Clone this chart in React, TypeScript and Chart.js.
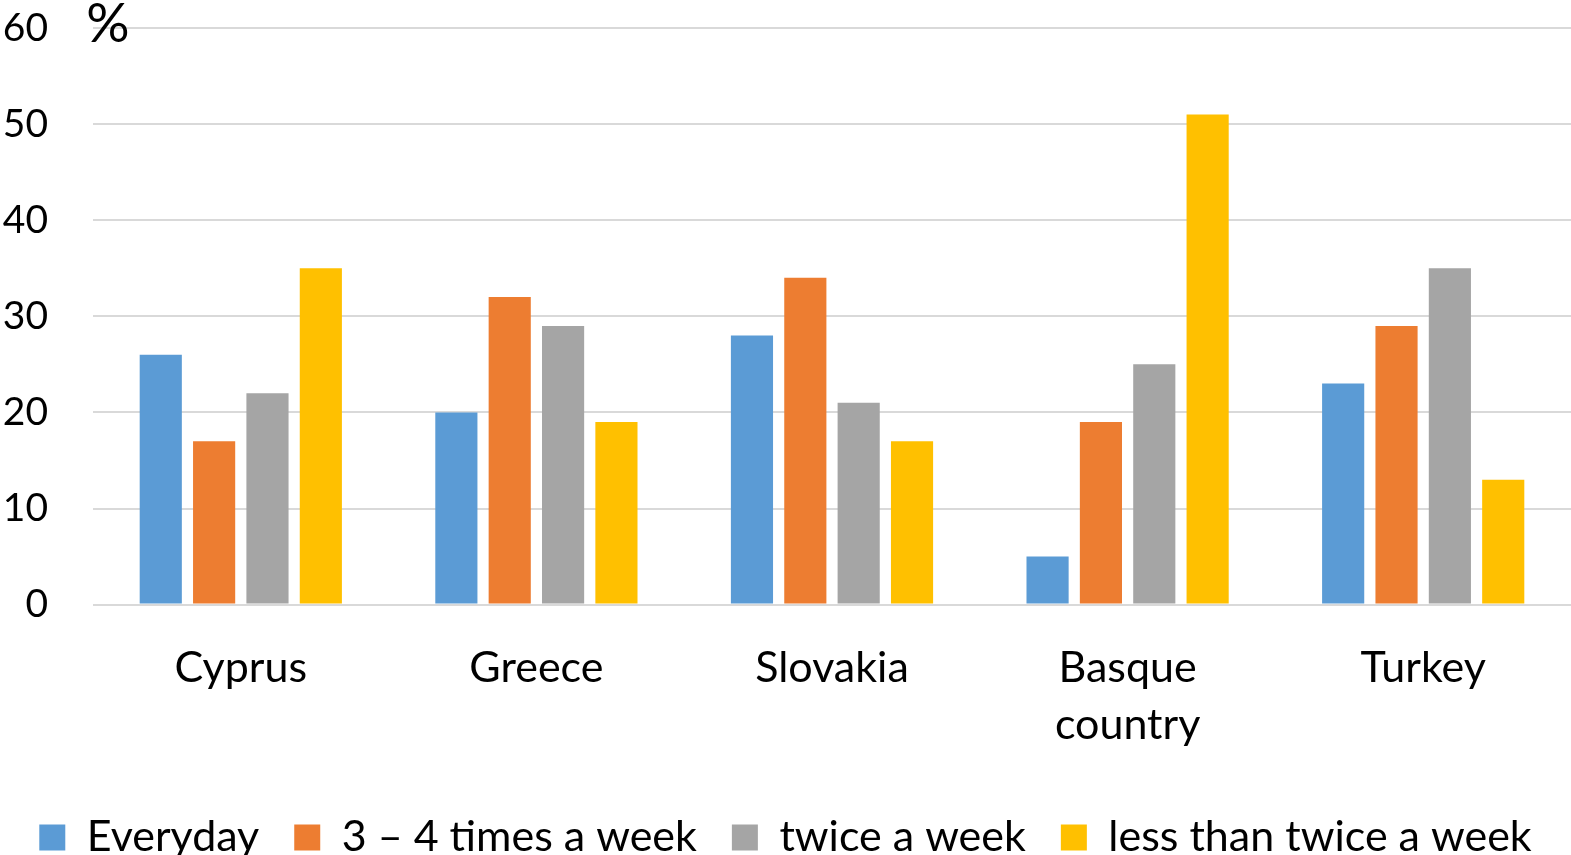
import React, { useEffect, useRef } from 'react'
import { Chart, registerables, ChartConfiguration, Plugin } from 'chart.js'

Chart.register(...registerables)

// dados (percentagem)
const categories: (string | string[])[] = ['Cyprus', 'Greece', 'Slovakia', ['Basque', 'country'], 'Turkey']
const everyday = [26, 20, 28, 5, 23]
const threeFour = [17, 32, 34, 19, 29]
const twice = [22, 29, 21, 25, 35]
const lessThanTwice = [35, 19, 17, 51, 13]
const seriesNames = ['Everyday', '3 – 4 times a week', 'twice a week', 'less than twice a week']
const seriesColors = ['#5B9BD5', '#ED7D31', '#A5A5A5', '#FFC000']
const yTicks = [0, 10, 20, 30, 40, 50, 60]

const FONT = 'Lato'

// desenha o "%" no topo do eixo y
const percentPlugin: Plugin<'bar'> = {
    id: 'percentLabel',
    afterDraw(chart) {
        const { ctx, chartArea } = chart
        ctx.save()
        ctx.font = `54px ${FONT}`
        ctx.fillStyle = '#000'
        ctx.textAlign = 'center'
        ctx.textBaseline = 'middle'
        ctx.fillText('%', chartArea.left + 15, chartArea.top - 3)
        ctx.restore()
    }
}

export default function App() {
    const canvasRef = useRef<HTMLCanvasElement | null>(null)
    const chartRef = useRef<Chart<'bar', number[], string | string[]> | null>(null)

    useEffect(() => {
        if (!canvasRef.current) return
        const values = [everyday, threeFour, twice, lessThanTwice]

        const config: ChartConfiguration<'bar', number[], string | string[]> = {
            type: 'bar',
            data: {
                labels: categories,
                datasets: values.map((v, i) => ({
                    label: seriesNames[i],
                    data: v,
                    backgroundColor: seriesColors[i],
                    borderWidth: 0,
                    categoryPercentage: 0.722,
                    barPercentage: 0.79
                }))
            },
            options: {
                responsive: true,
                maintainAspectRatio: false,
                animation: false,
                layout: { padding: { top: 28, right: 0, left: 0, bottom: -14 } },
                scales: {
                    x: {
                        grid: { display: false },
                        border: { display: false },
                        ticks: {
                            color: '#000',
                            font: { family: FONT, size: 43, lineHeight: 1.33 },
                            padding: 27,
                            maxRotation: 0,
                            autoSkip: false
                        }
                    },
                    y: {
                        min: 0,
                        max: 60,
                        afterBuildTicks: (scale) => {
                            scale.ticks = yTicks.map((v) => ({ value: v }))
                        },
                        afterFit: (scale) => {
                            scale.width = 93
                            scale.paddingTop = 0
                        },
                        grid: { color: '#D9D9D9', lineWidth: 2, drawTicks: false },
                        border: { display: false },
                        ticks: {
                            color: '#000',
                            font: { family: FONT, size: 39 },
                            padding: 45
                        }
                    }
                },
                plugins: {
                    legend: {
                        position: 'bottom',
                        labels: {
                            color: '#000',
                            font: { family: FONT, size: 43 },
                            boxWidth: 26,
                            boxHeight: 26,
                            padding: 35
                        }
                    },
                    tooltip: { enabled: false }
                }
            },
            plugins: [percentPlugin]
        }

        chartRef.current = new Chart(canvasRef.current, config)

        return () => {
            chartRef.current?.destroy()
        }
    }, [])

    return (
        <div style={{ position: 'absolute', left: 0, top: 0, width: 1571, height: 855, background: '#fff' }}>
            <canvas ref={canvasRef} />
        </div>
    )
}
